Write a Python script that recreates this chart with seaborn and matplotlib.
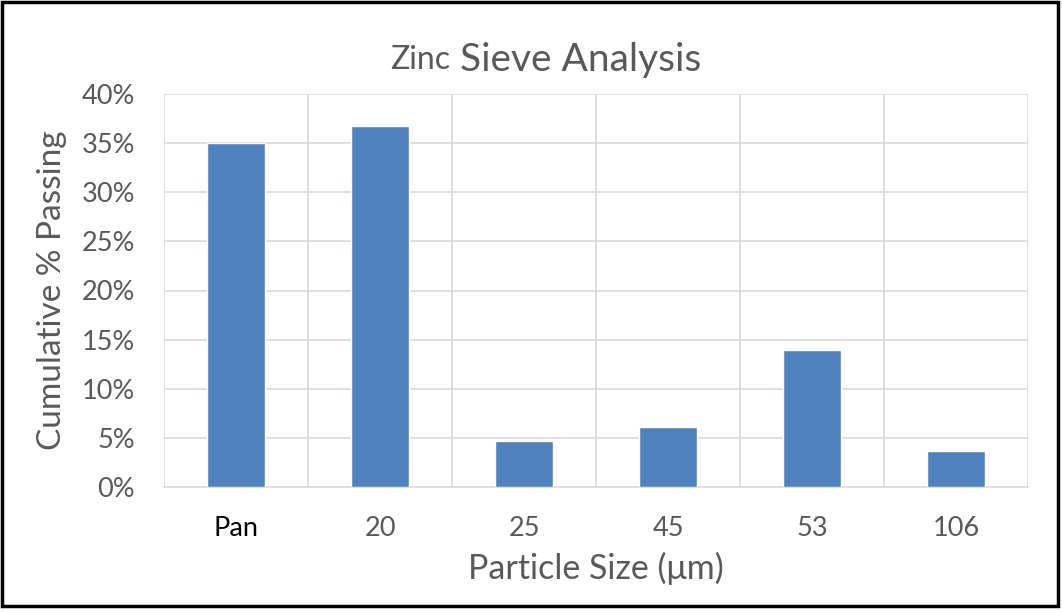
import matplotlib
matplotlib.use("Agg")
import matplotlib.pyplot as plt
import seaborn as sns
import pandas as pd
from matplotlib.patches import Rectangle
from matplotlib.ticker import FuncFormatter, FixedLocator

categories = ["Pan", "20", "25", "45", "53", "106"]
values = [35.0, 36.7, 4.7, 6.1, 13.9, 3.7]
y_ticks = [0, 5, 10, 15, 20, 25, 30, 35, 40]

df = pd.DataFrame({"size": categories, "pct": values})

sns.set_style("white")
plt.rcParams["font.family"] = ["Lato", "DejaVu Sans"]

W, H = 1062, 613
fig = plt.figure(figsize=(W / 100, H / 100), dpi=100)
ax = fig.add_axes([164 / W, 1 - 487 / H, (1028 - 164) / W, (487 - 94) / H])

sns.barplot(data=df, x="size", y="pct", order=categories, color="#4F81BD",
            width=0.4, saturation=1, ax=ax, zorder=3)

grey = "#595959"
gridc = "#D9D9D9"
ax.set_ylim(0, 40)
ax.set_xlim(-0.5, len(categories) - 0.5)
ax.yaxis.set_major_locator(FixedLocator(y_ticks))
ax.yaxis.set_major_formatter(FuncFormatter(lambda v, p: f"{int(v)}%"))
ax.xaxis.set_minor_locator(FixedLocator([i - 0.5 for i in range(len(categories) + 1)]))
ax.grid(axis="y", which="major", color=gridc, lw=1.2, zorder=0)
ax.grid(axis="x", which="minor", color=gridc, lw=1.2, zorder=0)
ax.set_axisbelow(True)
for s in ["top", "right", "left"]:
    ax.spines[s].set_visible(False)
ax.spines["bottom"].set_color(gridc)
ax.spines["bottom"].set_linewidth(1.2)
ax.tick_params(axis="both", which="both", length=0, labelsize=19.5, colors=grey)
ax.tick_params(axis="x", pad=21)
ax.tick_params(axis="y", pad=21)
for lbl in ax.get_xticklabels():
    if lbl.get_text() == "Pan":
        lbl.set_color("black")

ax.set_xlabel("Particle Size (\u03bcm)", fontsize=24.5, color=grey, labelpad=8)
ax.set_ylabel("Cumulative % Passing", fontsize=24, color=grey)
ax.yaxis.set_label_coords((67 - 164) / 864, 0.5)

# title with mixed sizes
t1 = fig.text(0, 1 - 60 / H, "Zinc", fontsize=23, color=grey, ha="right", va="center")
t2 = fig.text(0, 1 - 60 / H, " Sieve Analysis", fontsize=28, color=grey, ha="left", va="center")
fig.canvas.draw()
w1 = t1.get_window_extent().width
w2 = t2.get_window_extent().width
xs = (546 - (w1 + w2) / 2 + w1) / W
t1.set_x(xs)
t2.set_x(xs)

fig.patches.append(Rectangle((2 / W, 1 - 606 / H), (1058 - 2) / W, (606 - 2) / H,
                             transform=fig.transFigure, fill=False, edgecolor="black",
                             lw=2.5, zorder=10))

fig.savefig("out.png", dpi=100)
